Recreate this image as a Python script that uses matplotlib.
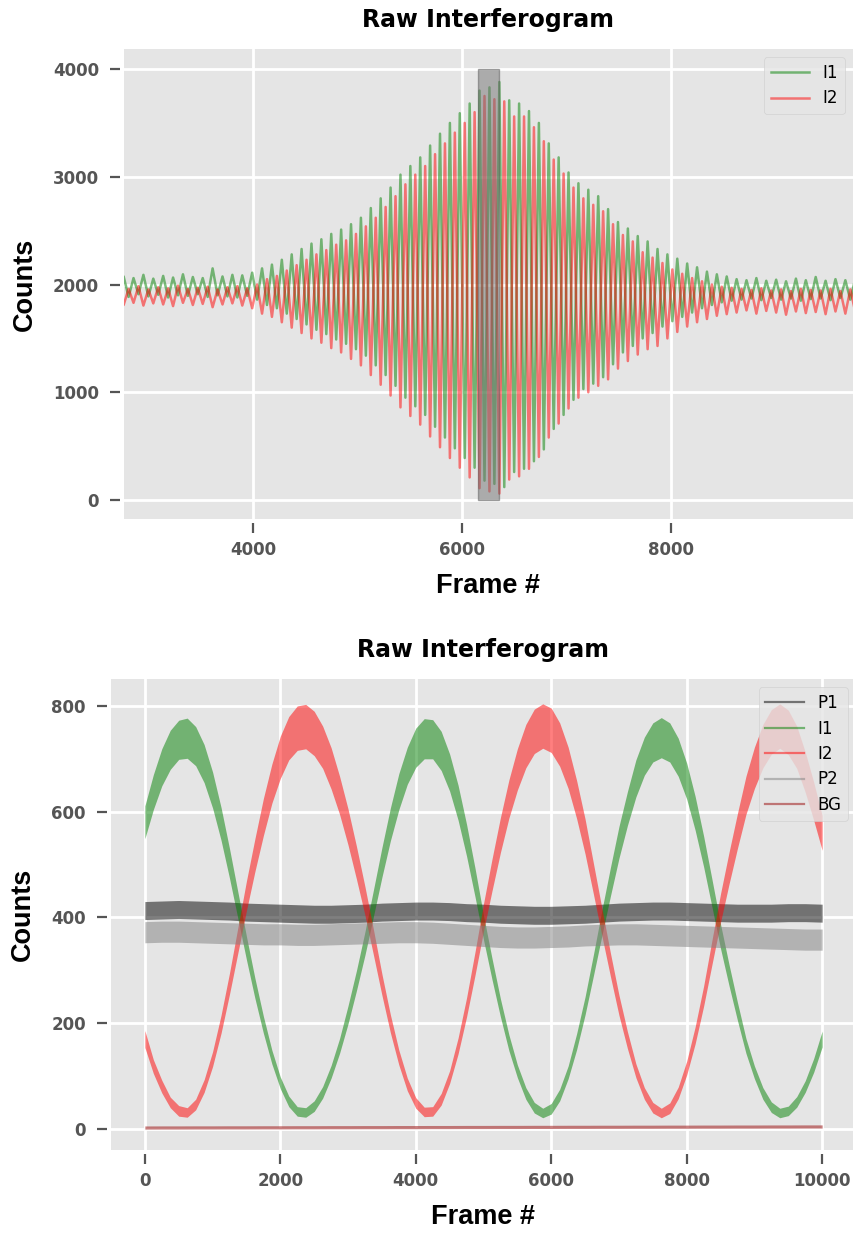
import numpy as np
import matplotlib
matplotlib.use("Agg")
import matplotlib.pyplot as plt
from matplotlib.patches import Rectangle

plt.style.use("ggplot")

# ---------------- Top panel: white-light interferogram ----------------
# Fringe peak frames of I1 start at FRINGE_FIRST and repeat every FRINGE_PERIOD;
# I1 troughs / I2 peaks sit half a period later.
FRINGE_FIRST = 2669.0
FRINGE_PERIOD = 94.5

i1_max = [2050, 2075, 2060, 2090, 2055, 2080, 2065, 2095, 2070, 2060, 2150, 2075, 2090, 2085,
          2110, 2150, 2185, 2230, 2280, 2330, 2380, 2420, 2470, 2510, 2560, 2620, 2710, 2800,
          2900, 3020, 3100, 3180, 3290, 3400, 3500, 3590, 3680, 3800,
          3830, 3880, 3710, 3680, 3610, 3500, 3310, 3180, 3040, 2940, 2880, 2820, 2700, 2580,
          2520, 2450, 2400, 2330, 2280, 2240, 2195, 2160, 2120, 2095, 2075, 2050, 2040, 2060,
          2035, 2045, 2030, 2055, 2040, 2070, 2035, 2050, 2040, 2055]
i1_min = [1900, 1885, 1910, 1890, 1905, 1880, 1900, 1895, 1910, 1885, 1900, 1890, 1880, 1895,
          1860, 1810, 1780, 1730, 1680, 1630, 1580, 1540, 1490, 1450, 1400, 1340, 1250, 1160,
          1060, 950, 870, 790, 680, 580, 480, 390, 300, 180,
          150, 120, 260, 290, 360, 470, 660, 790, 930, 1030, 1080, 1140, 1260, 1370,
          1430, 1500, 1550, 1610, 1660, 1700, 1740, 1780, 1810, 1835, 1850, 1860, 1870, 1855,
          1875, 1860, 1870, 1850, 1865, 1870, 1855, 1875, 1860, 1870]
i2_max = [1970, 1960, 1985, 1955, 1975, 1965, 1990, 1960, 1970, 1980, 1955, 1975, 1985, 1965,
          2000, 2050, 2080, 2130, 2180, 2230, 2280, 2320, 2370, 2410, 2470, 2540, 2620, 2720,
          2820, 2930, 3020, 3100, 3210, 3310, 3410, 3500, 3600, 3750,
          3720, 3700, 3560, 3560, 3460, 3330, 3160, 3030, 2900, 2800, 2740, 2680, 2560, 2460,
          2400, 2300, 2250, 2200, 2140, 2100, 2060, 2030, 2000, 1980, 1970, 1960, 1950, 1965,
          1945, 1955, 1940, 1960, 1950, 1945, 1960, 1940, 1955, 1945]
i2_min = [1820, 1810, 1830, 1805, 1825, 1815, 1800, 1830, 1810, 1820, 1790, 1815, 1825, 1805,
          1780, 1730, 1700, 1650, 1600, 1550, 1500, 1460, 1410, 1370, 1310, 1250, 1160, 1070,
          970, 860, 780, 700, 590, 490, 390, 300, 210, 110,
          80, 60, 190, 220, 290, 400, 580, 710, 850, 950, 1000, 1060, 1120, 1220,
          1290, 1350, 1400, 1430, 1500, 1560, 1610, 1650, 1680, 1710, 1725, 1740, 1760, 1730,
          1755, 1740, 1720, 1750, 1735, 1745, 1725, 1750, 1730, 1745]

# zero-path-difference window
zpd_frames = (6150, 6350)
zpd_counts = (0, 4000)

# ---------------- Bottom panel: slow scan over a few fringes ----------------
# interferometer outputs, sampled every 125 frames
frames = np.arange(0, 10001, 125)
i1_level = [580, 637, 684, 717, 736, 739, 724, 691, 641, 577, 502, 422, 342, 266, 197, 136, 87,
            52, 33, 31, 43, 69, 108, 157, 216, 281, 351, 427, 504, 576, 638, 687, 721, 738, 737,
            715, 674, 617, 546, 466, 381, 303, 229, 163, 109, 67, 40, 30, 38, 64, 107, 165, 233,
            311, 391, 468, 542, 606, 663, 705, 731, 740, 731, 703, 658, 597, 525, 445, 364, 291,
            222, 157, 107, 67, 41, 30, 34, 51, 80, 120, 170]
i1_spread = [31, 33, 35, 37, 37, 38, 37, 36, 34, 31, 28, 25, 22, 19, 16, 13, 11, 10, 9, 9, 10,
             11, 12, 14, 17, 19, 22, 25, 28, 31, 34, 35, 37, 38, 37, 37, 35, 33, 30, 27, 23, 20,
             17, 15, 12, 11, 10, 9, 10, 11, 12, 15, 17, 20, 24, 27, 30, 32, 35, 36, 37, 38, 37,
             36, 34, 32, 29, 26, 23, 20, 17, 14, 12, 11, 10, 9, 9, 10, 11, 13, 15]
i2_level = [170, 118, 80, 50, 34, 31, 46, 81, 132, 198, 275, 358, 441, 518, 590, 653, 703, 739,
            758, 761, 748, 722, 682, 631, 571, 503, 431, 353, 273, 199, 135, 84, 49, 32, 33, 56,
            98, 157, 230, 313, 400, 480, 556, 624, 680, 724, 752, 762, 754, 727, 683, 623, 553,
            472, 390, 310, 234, 168, 110, 67, 40, 30, 39, 68, 115, 177, 251, 335, 418, 493, 564,
            631, 683, 724, 751, 762, 750, 722, 675, 620, 560]
i2_spread = [16, 13, 12, 10, 10, 9, 10, 12, 14, 17, 20, 24, 28, 31, 35, 37, 40, 41, 42, 42, 42,
             40, 39, 36, 34, 31, 27, 24, 20, 17, 14, 12, 10, 9, 9, 11, 12, 15, 18, 22, 26, 30,
             33, 36, 39, 41, 42, 42, 42, 41, 39, 36, 33, 29, 26, 22, 19, 16, 13, 11, 10, 9, 10,
             11, 13, 16, 19, 23, 27, 30, 33, 36, 39, 41, 42, 42, 42, 40, 38, 36, 33]

# monitor and background channels, sampled every 250 frames
monitor_frames = np.arange(0, 10001, 250)
p1_level = [413, 414, 415, 414, 413, 412, 410, 409, 408, 407, 406, 406, 407, 408, 410, 411, 412,
            412, 411, 409, 408, 406, 405, 404, 404, 405, 406, 408, 410, 411, 412, 412, 411, 410,
            409, 408, 408, 408, 409, 409, 408]
p1_spread = 17
p2_level = [372, 373, 373, 372, 371, 370, 369, 368, 368, 367, 367, 368, 369, 370, 371, 372, 372,
            371, 369, 367, 365, 363, 362, 362, 363, 364, 366, 367, 368, 368, 367, 366, 365, 364,
            363, 362, 361, 360, 359, 358, 358]
p2_spread = 20
bg_level = [2.5, 2.6, 2.6, 2.7, 2.7, 2.8, 2.8, 2.9, 2.9, 3.0, 3.0, 3.1, 3.1, 3.2, 3.2, 3.3, 3.3,
            3.4, 3.4, 3.5, 3.5, 3.6, 3.6, 3.7, 3.7, 3.8, 3.8, 3.9, 3.9, 4.0, 4.0, 4.1, 4.1, 4.2,
            4.2, 4.3, 4.3, 4.4, 4.4, 4.5, 4.5]
bg_spread = 3

# ---------------- figure ----------------
fig = plt.figure(figsize=(8.54, 12.34), dpi=100)
W, H = 854.0, 1234.0
ax1 = fig.add_axes([124 / W, 1 - 519 / H, 729 / W, 470 / H])
ax2 = fig.add_axes([111 / W, 1 - 1150 / H, 745 / W, 471 / H])

TICK_COLOR = "#555555"
LABEL_FONT = dict(family="Liberation Sans", weight="bold", size=19.5, color="black")
TITLE_FONT = dict(family="DejaVu Sans", weight="bold", size=17, color="black")


def style_axes(ax, xticks, yticks):
    ax.set_facecolor("#E5E5E5")
    ax.grid(True, color="white", linewidth=2.0)
    ax.set_axisbelow(True)
    for sp in ax.spines.values():
        sp.set_visible(False)
    ax.spines["left"].set_position(("outward", 2.8))
    ax.spines["bottom"].set_position(("outward", 2.8))
    ax.set_xticks(xticks)
    ax.set_yticks(yticks)
    ax.tick_params(axis="both", which="major", direction="out", length=7.2, width=1.6,
                   color=TICK_COLOR, labelcolor=TICK_COLOR, labelsize=12)
    ax.tick_params(axis="x", pad=6)
    ax.tick_params(axis="y", pad=8)
    for lbl in ax.get_xticklabels() + ax.get_yticklabels():
        lbl.set_fontweight("bold")
        lbl.set_family("DejaVu Sans")
    ax.set_xlabel("Frame #", labelpad=10, **LABEL_FONT)
    ax.set_ylabel("Counts", labelpad=11, **LABEL_FONT)
    ax.set_title("Raw Interferogram", pad=15.5, **TITLE_FONT)


# top panel
fringe_frames = FRINGE_FIRST + FRINGE_PERIOD * np.arange(len(i1_max))
t_top = np.column_stack([fringe_frames, fringe_frames + FRINGE_PERIOD / 2]).ravel()
i1_top = np.column_stack([i1_max, i1_min]).ravel()
i2_top = np.column_stack([i2_min, i2_max]).ravel()

ax1.plot(t_top, i1_top, color="g", alpha=0.5, lw=1.8, label="I1", zorder=2)
ax1.plot(t_top, i2_top, color="r", alpha=0.5, lw=1.8, label="I2", zorder=2)
ax1.add_patch(Rectangle((zpd_frames[0], zpd_counts[0]), zpd_frames[1] - zpd_frames[0],
                        zpd_counts[1] - zpd_counts[0], facecolor="0.45", alpha=0.5,
                        edgecolor="0.35", lw=1.0, zorder=3))
ax1.set_xlim(2767, 9735)
ax1.set_ylim(-176, 4186)
style_axes(ax1, [4000, 6000, 8000], [0, 1000, 2000, 3000, 4000])
ax1.legend(loc="upper right", fontsize=12, handlelength=2.3, labelspacing=0.45)

# bottom panel
bands = [
    ("P1", monitor_frames, p1_level, p1_spread, "k", 0.5),
    ("I1", frames, i1_level, i1_spread, "g", 0.5),
    ("I2", frames, i2_level, i2_spread, "r", 0.5),
    ("P2", monitor_frames, p2_level, p2_spread, "0.5", 0.5),
    ("BG", monitor_frames, bg_level, bg_spread, "brown", 0.6),
]
for name, x, level, spread, color, alpha in bands:
    level = np.asarray(level, dtype=float)
    spread = np.broadcast_to(np.asarray(spread, dtype=float), level.shape)
    ax2.fill_between(x, level - spread, level + spread, color=color, alpha=alpha, lw=0)
    ax2.plot([], [], color=color, alpha=alpha, lw=1.6, label=name)

ax2.set_xlim(-500, 10500)
ax2.set_ylim(-40, 851)
style_axes(ax2, [0, 2000, 4000, 6000, 8000, 10000], [0, 200, 400, 600, 800])
ax2.legend(loc="upper right", fontsize=12, handlelength=2.3, labelspacing=0.45)

fig.savefig("out.png", dpi=100)
